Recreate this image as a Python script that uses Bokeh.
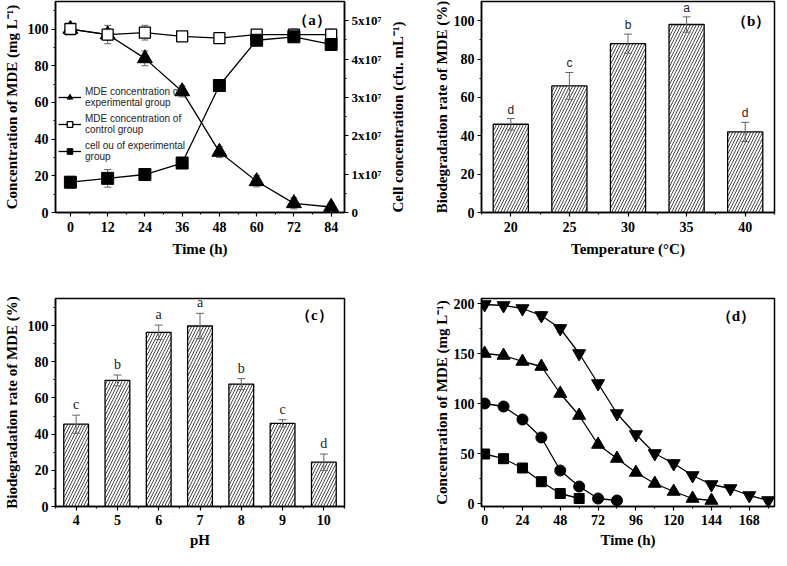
import math
from bokeh.plotting import figure
from bokeh.layouts import row, column
from bokeh.models import (Range1d, LinearAxis, FixedTicker, Whisker, TeeHead,
                          ColumnDataSource, Legend, LegendItem, Label)
from bokeh.core.properties import value
from bokeh.embed import file_html
from bokeh.resources import INLINE

# ---------------- data ----------------
# (a) time course
time_a = [0, 12, 24, 36, 48, 60, 72, 84]
mde_exp = [100, 97, 84, 66, 33, 17, 5, 3]
mde_exp_err = [3, 3, 4, 3, 3, 3, 3, 2]
mde_ctrl = [100, 97, 98, 96, 95, 97, 97, 97]
mde_ctrl_err = [3, 5, 4, 2, 2, 2, 3, 3]
cell = [0.79e7, 0.89e7, 0.99e7, 1.29e7, 3.31e7, 4.49e7, 4.58e7, 4.38e7]
cell_err = [0.15e7, 0.23e7, 0.12e7, 0.08e7, 0.10e7, 0.12e7, 0.15e7, 0.15e7]

# (b) temperature
temps = [20, 25, 30, 35, 40]
rate_temp = [46, 66, 88, 98, 42]
rate_temp_err = [3, 7, 5, 4, 5]
letters_temp = ["d", "c", "b", "a", "d"]

# (c) pH
ph = [4, 5, 6, 7, 8, 9, 10]
rate_ph = [45.5, 69.7, 96.3, 99.8, 67.7, 46, 24.5]
rate_ph_err = [5, 3, 4, 7, 3, 2, 4.5]
letters_ph = ["c", "b", "a", "a", "b", "c", "d"]

# (d) initial concentrations
t50 = [0, 12, 24, 36, 48, 60]
c50 = [49.5, 44.8, 35.5, 21.8, 10, 5]
c50_err = [1.5, 1.5, 1.5, 1.5, 1, 1]
t100 = [0, 12, 24, 36, 48, 60, 72, 84]
c100 = [100, 97, 84, 66, 33, 17, 5, 3]
c100_err = [2, 3, 2, 2, 2, 2, 1, 1]
t150 = [0, 12, 24, 36, 48, 60, 72, 84, 96, 108, 120, 132, 144]
c150 = [150, 148, 142, 137, 110, 88, 59, 45, 31, 20, 12, 5, 3]
c150_err = [2, 2, 2, 3, 3, 3, 2, 2, 2, 3, 3, 1, 1]
t200 = [0, 12, 24, 36, 48, 60, 72, 84, 96, 108, 120, 132, 144, 156, 168, 180]
c200 = [199, 198, 195, 188, 175, 150, 120, 90, 69, 50, 40, 28, 19, 15, 8, 3]
c200_err = [2, 2, 3, 4, 4, 3, 3, 3, 3, 3, 4, 3, 2, 2, 2, 1]

SERIF = "Liberation Serif"
SANS = "Liberation Sans"
ERR_COLOR = "#666666"


def make_fig(w, h, xr, yr, mb):
    p = figure(width=w, height=h, x_range=Range1d(*xr), y_range=Range1d(*yr),
               output_backend="svg", toolbar_location=None,
               min_border_left=mb[0], min_border_right=mb[1],
               min_border_top=mb[2], min_border_bottom=mb[3])
    p.grid.visible = False
    p.outline_line_color = "black"
    p.outline_line_width = 1.5
    p.outline_line_alpha = 1
    p.background_fill_color = "white"
    p.border_fill_color = "white"
    return p


def style_axis(ax, label_size="15px", tick_size="14px", lab_so=3, title_so=5):
    ax.axis_line_width = 1.5
    ax.axis_line_color = "black"
    ax.major_tick_out = 4
    ax.major_tick_in = 0
    ax.minor_tick_out = 2
    ax.minor_tick_in = 0
    ax.major_tick_line_width = 1.2
    ax.minor_tick_line_width = 1.2
    ax.major_tick_line_color = "black"
    ax.minor_tick_line_color = "black"
    ax.major_label_text_font = SERIF
    ax.major_label_text_font_style = "bold"
    ax.major_label_text_font_size = tick_size
    ax.major_label_text_color = "black"
    ax.axis_label_text_font = SERIF
    ax.axis_label_text_font_style = "bold"
    ax.axis_label_text_font_size = label_size
    ax.axis_label_text_color = "black"
    ax.major_label_standoff = lab_so
    ax.axis_label_standoff = title_so


def whisker(p, xs, ys, errs, y_range_name="default", level="underlay", size=7):
    src = ColumnDataSource(dict(x=xs,
                                upper=[y + e for y, e in zip(ys, errs)],
                                lower=[y - e for y, e in zip(ys, errs)]))
    w = Whisker(source=src, base="x", upper="upper", lower="lower",
                line_color=ERR_COLOR, line_width=1, level=level,
                y_range_name=y_range_name,
                upper_head=TeeHead(size=size, line_color=ERR_COLOR, line_width=1),
                lower_head=TeeHead(size=size, line_color=ERR_COLOR, line_width=1))
    p.add_layout(w)


def panel_label(p, x, y, txt):
    p.add_layout(Label(x=x, y=y, text=txt, text_font=SERIF, text_font_style="bold",
                       text_font_size="15px", text_align="center",
                       text_baseline="middle", text_color="black"))


# ---------------- panel (a) ----------------
pa = make_fig(424, 278, (-4.8, 88.3), (0, 115), (49, 80, 1, 66))
pa.extra_y_ranges = {"cell": Range1d(0, 5.5e7)}
pa.xaxis.ticker = FixedTicker(ticks=[0, 12, 24, 36, 48, 60, 72, 84],
                              minor_ticks=[6, 18, 30, 42, 54, 66, 78])
pa.yaxis.ticker = FixedTicker(ticks=[0, 20, 40, 60, 80, 100],
                              minor_ticks=[10, 30, 50, 70, 90, 110])
pa.xaxis.axis_label = "Time (h)"
pa.yaxis.axis_label = "Concentration of MDE (mg L\u207b\u00b9)"
rax = LinearAxis(y_range_name="cell",
                 ticker=FixedTicker(ticks=[0, 1e7, 2e7, 3e7, 4e7, 5e7],
                                    minor_ticks=[0.5e7, 1.5e7, 2.5e7, 3.5e7, 4.5e7]),
                 axis_label="Cell concentration (cfu. mL\u207b\u00b9)")
rax.major_label_overrides = {0: "0", 1e7: "1x10\u2077", 2e7: "2x10\u2077",
                             3e7: "3x10\u2077", 4e7: "4x10\u2077", 5e7: "5x10\u2077"}
pa.add_layout(rax, "right")
style_axis(pa.xaxis[0], lab_so=5, title_so=6)
style_axis(pa.yaxis[0])
style_axis(rax, tick_size="13px", title_so=14)
# right-hand axis title reading bottom-to-top, as in the reference
try:
    rax.axis_label_align = "start"
    rax.axis_label_orientation = math.pi / 2
except Exception:
    pass

whisker(pa, time_a, mde_exp, mde_exp_err)
whisker(pa, time_a, mde_ctrl, mde_ctrl_err)
whisker(pa, time_a, cell, cell_err, y_range_name="cell")

l1 = pa.line(time_a, mde_exp, line_color="black", line_width=1.3)
s1 = pa.scatter(time_a, mde_exp, marker="triangle", size=15, fill_color="black", line_color="black")
l2 = pa.line(time_a, mde_ctrl, line_color="black", line_width=1.3)
s2 = pa.scatter(time_a, mde_ctrl, marker="square", size=11, fill_color="white",
                line_color="black", line_width=1.3)
l3 = pa.line(time_a, cell, line_color="black", line_width=1.3, y_range_name="cell")
s3 = pa.scatter(time_a, cell, marker="square", size=12, fill_color="black",
                line_color="black", y_range_name="cell")

legend = Legend(items=[
    LegendItem(label="MDE concentration of\nexperimental group", renderers=[l1, s1]),
    LegendItem(label="MDE concentration of\ncontrol group", renderers=[l2, s2]),
    LegendItem(label="cell ou of experimental\ngroup", renderers=[l3, s3]),
], location=(3, 50))
legend.border_line_color = None
legend.background_fill_alpha = 0
legend.label_text_font = SANS
legend.label_text_font_size = "10px"
legend.label_text_line_height = 1.35
legend.label_text_color = "#222222"
legend.glyph_width = 23
legend.glyph_height = 14
legend.label_standoff = 4
legend.spacing = 5
legend.padding = 0
legend.margin = 0
pa.add_layout(legend)
panel_label(pa, 77.8, 105, "\uff08a\uff09")

# ---------------- panel (b) ----------------
pb = make_fig(352, 278, (17.5, 42.5), (0, 110), (57, 2, 1, 66))
pb.xaxis.ticker = FixedTicker(ticks=[20, 25, 30, 35, 40],
                              minor_ticks=[17.5, 22.5, 27.5, 32.5, 37.5, 42.5])
pb.yaxis.ticker = FixedTicker(ticks=[0, 20, 40, 60, 80, 100],
                              minor_ticks=[10, 30, 50, 70, 90])
pb.xaxis.axis_label = "Temperature (\u00b0C)"
pb.yaxis.axis_label = "Biodegradation rate of MDE (%)"
style_axis(pb.xaxis[0], lab_so=5, title_so=6)
style_axis(pb.yaxis[0], title_so=1)
pb.vbar(x=temps, top=rate_temp, width=3, bottom=0, fill_color="white",
        line_color="black", line_width=1.3, hatch_pattern="/", hatch_color="#333333",
        hatch_scale=6, hatch_weight=0.9)
whisker(pb, temps, rate_temp, rate_temp_err, level="annotation", size=8)
pb.text(x=temps, y=[v + e for v, e in zip(rate_temp, rate_temp_err)], text=letters_temp,
        y_offset=-2, text_align="center", text_baseline="bottom",
        text_font=value(SANS), text_font_size="12px", text_color="#222222")
panel_label(pb, 40.5, 100, "\uff08b\uff09")

# ---------------- panel (c) ----------------
pc = make_fig(424, 272, (3.5, 10.5), (0, 115), (47, 80, 20, 40))
pc.xaxis.ticker = FixedTicker(ticks=[4, 5, 6, 7, 8, 9, 10],
                              minor_ticks=[3.5, 4.5, 5.5, 6.5, 7.5, 8.5, 9.5, 10.5])
pc.yaxis.ticker = FixedTicker(ticks=[0, 20, 40, 60, 80, 100],
                              minor_ticks=[10, 30, 50, 70, 90, 110])
pc.xaxis.axis_label = "pH"
pc.yaxis.axis_label = "Biodegradation rate of MDE (%)"
style_axis(pc.xaxis[0], lab_so=4, title_so=4)
style_axis(pc.yaxis[0])
pc.vbar(x=ph, top=rate_ph, width=0.6, bottom=0, fill_color="white",
        line_color="black", line_width=1.3, hatch_pattern="/", hatch_color="#333333",
        hatch_scale=6, hatch_weight=0.9)
whisker(pc, ph, rate_ph, rate_ph_err, level="annotation", size=8)
pc.text(x=ph, y=[v + e for v, e in zip(rate_ph, rate_ph_err)], text=letters_ph,
        y_offset=-3, text_align="center", text_baseline="bottom",
        text_font=value(SERIF), text_font_size="14px", text_color="#222222")
panel_label(pc, 9.77, 105.8, "\uff08c\uff09")

# ---------------- panel (d) ----------------
pd_ = make_fig(352, 272, (-2, 184), (-3, 205), (57, 2, 20, 40))
pd_.xaxis.ticker = FixedTicker(ticks=[0, 24, 48, 72, 96, 120, 144, 168],
                               minor_ticks=[12, 36, 60, 84, 108, 132, 156, 180])
pd_.yaxis.ticker = FixedTicker(ticks=[0, 50, 100, 150, 200],
                               minor_ticks=[25, 75, 125, 175])
pd_.xaxis.axis_label = "Time (h)"
pd_.yaxis.axis_label = "Concentration of MDE (mg L\u207b\u00b9)"
style_axis(pd_.xaxis[0], lab_so=4, title_so=4)
style_axis(pd_.yaxis[0], title_so=1)
for ts, cs, es, mk, sz in [(t50, c50, c50_err, "square", 10),
                           (t100, c100, c100_err, "circle", 11),
                           (t150, c150, c150_err, "triangle", 13),
                           (t200, c200, c200_err, "inverted_triangle", 13)]:
    whisker(pd_, ts, cs, es, size=6)
    pd_.line(ts, cs, line_color="black", line_width=1.3)
    pd_.scatter(ts, cs, marker=mk, size=sz, fill_color="black", line_color="black")
panel_label(pd_, 159.5, 188, "\uff08d\uff09")

layout = column(row(pa, pb), row(pc, pd_))
open("out.html", "w").write(file_html(layout, INLINE))
